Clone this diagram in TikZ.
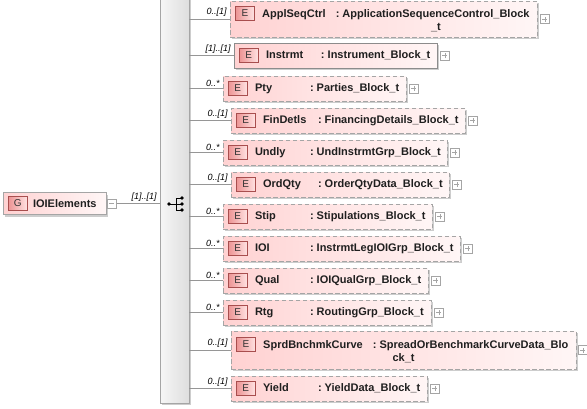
\documentclass[tikz,border=0pt]{standalone}
\usepackage{fontspec}
\setmainfont{Liberation Sans}
\usetikzlibrary{shadows}
\definecolor{boxL}{RGB}{255,210,210}
\definecolor{boxR}{RGB}{255,246,246}
\definecolor{badL}{RGB}{236,148,148}
\definecolor{badR}{RGB}{255,226,226}
\definecolor{badB}{RGB}{168,78,78}
\definecolor{bord}{RGB}{165,165,165}
\definecolor{connc}{RGB}{150,150,150}
\definecolor{barL}{RGB}{246,246,246}
\definecolor{barR}{RGB}{222,222,222}
\definecolor{shad}{RGB}{205,205,205}
\newcommand\nmbox[1]{\setbox0=\hbox{#1}\ifdim\wd0<45pt\hbox to 45pt{#1\hfil}\else\box0\fi\hspace{10pt}}
\tikzset{
  cbox/.style={rectangle, draw=bord, left color=boxL, right color=boxR, inner sep=0pt,
    drop shadow={shadow xshift=2pt, shadow yshift=-2pt, fill=shad, opacity=1}},
  optb/.style={dash pattern=on 4.5pt off 2.5pt},
  reqb/.style={solid, draw=bord!85!black},
  badge/.style={rectangle, draw=badB, left color=badL, right color=badR, minimum width=19pt,
    minimum height=14pt, inner sep=0pt, font=\fontsize{10}{11}\selectfont, text=black!80},
  lbl/.style={font=\fontsize{11}{13}\selectfont\bfseries, inner sep=0pt, text=black!88},
  card/.style={font=\fontsize{9}{10}\selectfont\itshape, inner sep=0pt},
  pmb/.style={rectangle, draw=bord, fill=white, minimum size=9pt, inner sep=0pt},
  plusb/.style={pmb, path picture={\draw[bord, line width=0.6pt]
     ([xshift=-2.5pt]path picture bounding box.center) -- ([xshift=2.5pt]path picture bounding box.center)
     ([yshift=-2.5pt]path picture bounding box.center) -- ([yshift=2.5pt]path picture bounding box.center);}},
  minusb/.style={pmb, path picture={\draw[bord, line width=0.6pt]
     ([xshift=-2.5pt]path picture bounding box.center) -- ([xshift=2.5pt]path picture bounding box.center);}},
  link/.style={draw=connc, line width=0.8pt}
}
% id, left, top, right, label, name, type, border style
\newcommand\crow[8]{%
  \node[cbox,#8,minimum width={#4-#2},minimum height=25pt] (c#1) at ({(#2+#4)/2},{#3+12.5}) {};
  \draw[link] (bar.east |- c#1.west) -- (c#1.west);
  \node[badge] (b#1) at ([xshift=15pt]c#1.west) {E};
  \node[lbl,anchor=west] (t#1) at ([xshift=32pt]c#1.west) {\nmbox{#6}:\ #7};
  \node[plusb,anchor=west] (p#1) at ([xshift=3pt]c#1.east) {};
  \node[card,anchor=south east] (k#1) at ([xshift=-3pt,yshift=2pt]c#1.west) {#5};
}
\begin{document}
\begin{tikzpicture}[x=1pt,y=-1pt]
\useasboundingbox (0,0) rectangle (587,408);
% sequence bar
\node[rectangle, draw=bord, left color=barL, right color=barR, minimum width=29pt,
  minimum height=406pt, inner sep=0pt,
  drop shadow={shadow xshift=2pt, shadow yshift=-2pt, fill=shad, opacity=1}] (bar) at (174.5,200) {};
\draw[line width=0.8pt] (169,204) -- (176,204) (176,198) -- (176,210)
  (176,198) -- (182,198) (176,204) -- (182,204) (176,210) -- (182,210);
\fill (169,204) circle (1.9pt) (182,198) circle (1.9pt) (182,204) circle (1.9pt) (182,210) circle (1.9pt);
% root
\node[cbox, minimum width=103pt, minimum height=22pt] (root) at (54.5,203.5) {};
\node[badge] (rb) at ([xshift=15pt]root.west) {G};
\node[lbl,anchor=west] (rt) at ([xshift=30pt]root.west) {IOIElements};
\node[minusb,anchor=west] (rm) at ([xshift=1pt]root.east) {};
\draw[link] (rm.east) -- (bar.west |- rm.east);
\node[card,anchor=south east] (rk) at ([xshift=-3pt,yshift=2pt]bar.west |- rm.east) {[1]..[1]};
% row 1 (two lines)
\node[cbox,optb,minimum width=307pt,minimum height=36pt] (c1) at (383.5,19) {};
\draw[link] (bar.east |- c1.west) -- (c1.west);
\node[badge] (b1) at (245,13) {E};
\node[lbl,anchor=base west] (t1) at (262,17) {\nmbox{ApplSeqCtrl}:\ \begin{tabular}[t]{@{}c@{}}ApplicationSequenceControl\_Block\\\_t\end{tabular}};
\node[plusb,anchor=west] (p1) at ([xshift=3pt]c1.east) {};
\node[card,anchor=south east] (k1) at ([xshift=-3pt,yshift=2pt]c1.west) {0..[1]};
% single rows
\crow{2}{234}{43}{437}{[1]..[1]}{Instrmt}{Instrument\_Block\_t}{reqb}
\crow{3}{223}{76}{406}{0..*}{Pty}{Parties\_Block\_t}{optb}
\crow{4}{231}{108}{465}{0..[1]}{FinDetls}{FinancingDetails\_Block\_t}{optb}
\crow{5}{223}{140}{447}{0..*}{Undly}{UndInstrmtGrp\_Block\_t}{optb}
\crow{6}{231}{172}{449}{0..[1]}{OrdQty}{OrderQtyData\_Block\_t}{optb}
\crow{7}{223}{204}{432}{0..*}{Stip}{Stipulations\_Block\_t}{optb}
\crow{8}{223}{236}{460}{0..*}{IOI}{InstrmtLegIOIGrp\_Block\_t}{optb}
\crow{9}{223}{268}{428}{0..*}{Qual}{IOIQualGrp\_Block\_t}{optb}
\crow{10}{223}{300}{431}{0..*}{Rtg}{RoutingGrp\_Block\_t}{optb}
% row 11 (two lines)
\node[cbox,optb,minimum width=345pt,minimum height=38pt] (c11) at (403.5,350) {};
\draw[link] (bar.east |- c11.west) -- (c11.west);
\node[badge] (b11) at (246,344) {E};
\node[lbl,anchor=base west] (t11) at (263,348) {\nmbox{SprdBnchmkCurve}:\ \begin{tabular}[t]{@{}l@{}}SpreadOrBenchmarkCurveData\_Blo\\\hspace{13pt}ck\_t\end{tabular}};
\node[plusb,anchor=west] (p11) at ([xshift=2pt]c11.east) {};
\node[card,anchor=south east] (k11) at ([xshift=-3pt,yshift=2pt]c11.west) {0..[1]};
\crow{12}{231}{376}{427}{0..[1]}{Yield}{YieldData\_Block\_t}{optb}
\end{tikzpicture}
\end{document}
